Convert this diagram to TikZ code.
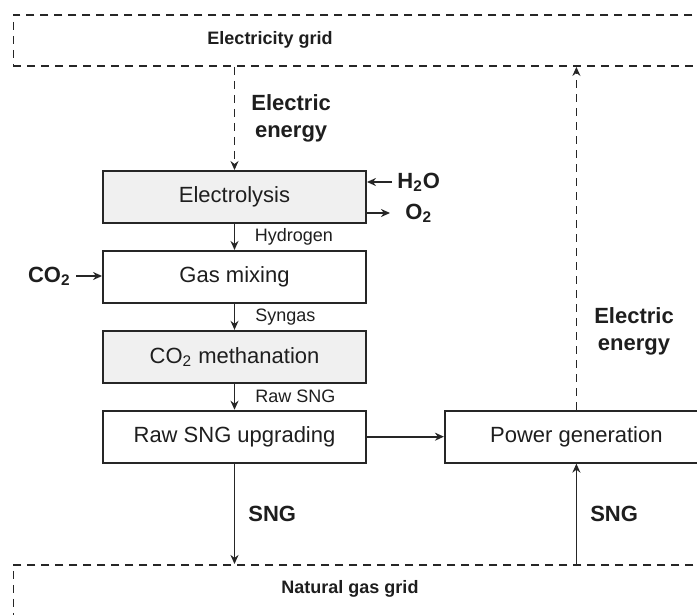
\documentclass[tikz,border=0pt]{standalone}
\usepackage{fontspec}
\setmainfont{Liberation Sans}
\usepackage{xcolor}
\definecolor{linecolor}{HTML}{262626}
\definecolor{textcolor}{HTML}{1E1E1E}
\definecolor{procfill}{HTML}{F0F0F0}
\usetikzlibrary{positioning,arrows.meta,calc}
\tikzset{
    process/.style={
        rectangle,
        draw=linecolor,
        fill=white,
        text=textcolor,
        minimum width=131.5pt,
        minimum height=26pt,
        line width=0.95pt,
        font=\fontsize{11}{13}\selectfont,
    },
    greyprocess/.style={
        process,
        fill=procfill,
    },
    gridbox/.style={
        rectangle,
        draw=linecolor,
        dashed,
        dash pattern=on 4pt off 3pt,
        line width=0.95pt,
        inner sep=0pt,
        anchor=north west,
    },
    gridlabel/.style={
        text=textcolor,
        font=\bfseries\fontsize{9}{11}\selectfont,
    },
    flow/.style={
        ->,
        >={Stealth[length=4.5pt,width=4pt]},
        line width=0.9pt,
        linecolor,
    },
    energy/.style={
        flow,
        dashed,
        dash pattern=on 4pt off 3pt,
    },
    stream/.style={
        text=textcolor,
        font=\fontsize{9}{11}\selectfont,
        anchor=west,
        inner sep=0pt,
    },
    boldlabel/.style={
        text=textcolor,
        font=\bfseries\fontsize{11}{13.5}\selectfont,
        align=center,
        inner sep=0pt,
    },
}
\begin{document}
\begin{tikzpicture}[x=0.5pt, y=-0.5pt]
    \clip (0,0) rectangle (697,615);
    % grids
    \node[gridbox, minimum width=374pt, minimum height=25.5pt] (elgrid) at (12.5,14) {};
    \node[gridlabel] (elgridtext) at (270,40) {Electricity grid};
    \node[gridbox, minimum width=374pt, minimum height=40pt] (gasgrid) at (12.5,564) {};
    \node[gridlabel] (gasgridtext) at (350,589) {Natural gas grid};

    % process chain
    \node[greyprocess] (electrolysis) at (234.5,197) {Electrolysis};
    \node[process, below=13pt of electrolysis] (mixing) {Gas mixing};
    \node[greyprocess, below=13pt of mixing] (methanation) {CO\textsubscript{2} methanation};
    \node[process, below=13pt of methanation] (upgrading) {Raw SNG upgrading};
    \node[process, right=38.5pt of upgrading] (powergen) {Power generation};

    \draw[flow] (electrolysis) -- node[stream, xshift=9.75pt] (hydrogenlbl) {Hydrogen} (mixing);
    \draw[flow] (mixing) -- node[stream, xshift=10pt] (syngaslbl) {Syngas} (methanation);
    \draw[flow] (methanation) -- node[stream, xshift=10pt] (rawsnglbl) {Raw SNG} (upgrading);
    \draw[flow] (upgrading) -- (powergen);

    % inputs and outputs
    \node[boldlabel, anchor=west] (h2o) at (397,182) {H\textsubscript{2}O};
    \node[boldlabel, anchor=west] (o2) at (405,213) {O\textsubscript{2}};
    \node[boldlabel, anchor=east] (co2) at (71,276) {CO\textsubscript{2}};
    \draw[flow] ([xshift=-2.5pt]h2o.west) -- (electrolysis.east |- h2o.west);
    \draw[flow] (electrolysis.east |- o2.west) -- ([xshift=-7.5pt]o2.west);
    \draw[flow] ([xshift=2.5pt]co2.east) -- (mixing.west |- co2.east);

    % grid connections
    \draw[energy] (electrolysis.north |- elgrid.south) -- node[boldlabel, anchor=west, xshift=8pt] (elecin) {Electric\\energy} (electrolysis.north);
    \draw[energy] (powergen.north) -- node[boldlabel, anchor=west, pos=0.23, xshift=8.5pt] (elecout) {Electric\\energy} (powergen.north |- elgrid.south);
    \draw[flow] (upgrading.south) -- node[boldlabel, anchor=west, xshift=6.5pt] (sngout) {SNG} (upgrading.south |- gasgrid.north);
    \draw[flow] (powergen.south |- gasgrid.north) -- node[boldlabel, anchor=west, xshift=6.5pt] (sngin) {SNG} (powergen.south);
\end{tikzpicture}
\end{document}
